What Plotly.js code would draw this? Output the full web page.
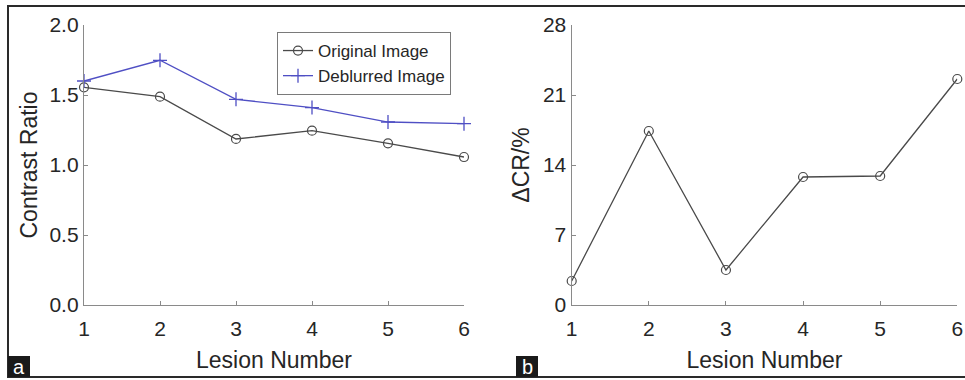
<!DOCTYPE html>
<html>
<head>
<meta charset="utf-8">
<script src="https://cdn.plot.ly/plotly-3.0.1.min.js"></script>
<style>html,body{margin:0;padding:0;background:#fff;}#chart{width:965px;height:380px;}</style>
</head>
<body>
<div id="chart"></div>
<script>
const lesions = [1, 2, 3, 4, 5, 6];
const originalCR = [1.555, 1.488, 1.186, 1.245, 1.155, 1.057];
const deblurredCR = [1.600, 1.748, 1.469, 1.410, 1.307, 1.295];
const deltaCR = [2.4, 17.4, 3.5, 12.8, 12.9, 22.6];
const yTicksA = [0, 0.5, 1.0, 1.5, 2.0];
const yTickTextA = ['0.0', '0.5', '1.0', '1.5', '2.0'];
const yTicksB = [0, 7, 14, 21, 28];

const W = 965, H = 380;
const px = v => v / W, py = v => 1 - v / H;
const fontFam = 'Liberation Sans, Arial, sans-serif';
const axisCol = '#8a8a8a';
const tickFont = {family: fontFam, size: 21, color: '#262626'};
const titleFont = {family: fontFam, size: 23, color: '#262626'};

const traces = [
  {x: lesions, y: originalCR, name: 'Original Image', type: 'scatter', mode: 'lines+markers',
   line: {color: '#4a4a4a', width: 1.3}, marker: {symbol: 'circle-open', size: 9, color: '#4a4a4a', line: {width: 1.2}},
   cliponaxis: false, xaxis: 'x', yaxis: 'y'},
  {x: lesions, y: deblurredCR, name: 'Deblurred Image', type: 'scatter', mode: 'lines+markers',
   line: {color: '#4f4fc4', width: 1.3}, marker: {symbol: 'cross-thin-open', size: 10, color: '#4f4fc4', line: {width: 1.3, color: '#4f4fc4'}},
   cliponaxis: false, xaxis: 'x', yaxis: 'y'},
  {x: lesions, y: deltaCR, name: 'ΔCR', type: 'scatter', mode: 'lines+markers', showlegend: false,
   line: {color: '#4a4a4a', width: 1.3}, marker: {symbol: 'circle-open', size: 9, color: '#4a4a4a', line: {width: 1.2}},
   cliponaxis: false, xaxis: 'x2', yaxis: 'y2'}
];

const xCommon = {range: [1, 6], tickvals: lesions, showgrid: false, zeroline: false, showline: true,
  linecolor: axisCol, linewidth: 1.2, ticks: 'inside', ticklen: 4, tickcolor: axisCol, tickfont: tickFont,
  ticklabelstandoff: 5,
  title: {text: 'Lesion Number', font: titleFont, standoff: 12}, fixedrange: true, automargin: false};
const yCommon = {showgrid: false, zeroline: false, showline: true, linecolor: axisCol, linewidth: 1.2,
  ticks: 'inside', ticklen: 4, tickcolor: axisCol, tickfont: tickFont, fixedrange: true, automargin: false};

const layout = {
  width: W, height: H, margin: {l: 0, r: 0, t: 0, b: 0}, paper_bgcolor: '#fff', plot_bgcolor: 'rgba(0,0,0,0)',
  font: {family: fontFam, color: '#262626'},
  xaxis: Object.assign({}, xCommon, {domain: [px(84), px(464)], anchor: 'y'}),
  yaxis: Object.assign({}, yCommon, {domain: [py(305), py(25)], range: [0, 2], tickvals: yTicksA, ticktext: yTickTextA,
    anchor: 'x', title: {text: 'Contrast Ratio', font: titleFont, standoff: 5}}),
  xaxis2: Object.assign({}, xCommon, {domain: [px(571.7), px(957.3)], anchor: 'y2'}),
  yaxis2: Object.assign({}, yCommon, {domain: [py(305), py(25)], range: [0, 28], tickvals: yTicksB,
    anchor: 'x2', title: {text: 'ΔCR/%', font: titleFont, standoff: 6}}),
  showlegend: true,
  legend: {x: px(277), y: py(32), xanchor: 'left', yanchor: 'top', bgcolor: '#fff', bordercolor: '#7a7a7a', borderwidth: 1,
    font: {family: fontFam, size: 17, color: '#262626'}, tracegroupgap: 0, itemwidth: 30},
  shapes: [
    {type: 'rect', xref: 'paper', yref: 'paper', x0: px(8), x1: px(975), y0: py(377), y1: py(6), line: {color: '#2a2a2a', width: 2}, layer: 'below'},
    {type: 'rect', xref: 'paper', yref: 'paper', x0: px(8), x1: px(30), y0: py(377), y1: py(356), fillcolor: '#1a1a1a', line: {width: 0}},
    {type: 'rect', xref: 'paper', yref: 'paper', x0: px(516), x1: px(538), y0: py(377), y1: py(356), fillcolor: '#1a1a1a', line: {width: 0}}
  ],
  annotations: [
    {xref: 'paper', yref: 'paper', x: px(19), y: py(366.5), text: 'a', showarrow: false, font: {family: fontFam, size: 20, color: '#fff'}, xanchor: 'center', yanchor: 'middle'},
    {xref: 'paper', yref: 'paper', x: px(527), y: py(366.5), text: 'b', showarrow: false, font: {family: fontFam, size: 20, color: '#fff'}, xanchor: 'center', yanchor: 'middle'}
  ]
};

Plotly.newPlot('chart', traces, layout, {staticPlot: true, displayModeBar: false});
</script>
</body>
</html>
